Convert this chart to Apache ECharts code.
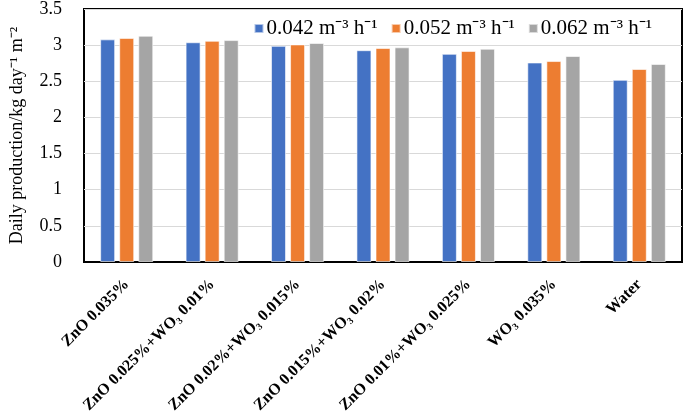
<!DOCTYPE html>
<html><head><meta charset="utf-8">
<script src="https://cdn.jsdelivr.net/npm/echarts@6/dist/echarts.min.js"></script>
<style>html,body{margin:0;padding:0;background:#fff}#c{width:685px;height:420px}</style>
</head><body><div id="c"></div>
<script>
const categories = ['ZnO 0.035%', 'ZnO 0.025%+WO₃ 0.01%', 'ZnO 0.02%+WO₃ 0.015%', 'ZnO 0.015%+WO₃ 0.02%', 'ZnO 0.01%+WO₃ 0.025%', 'WO₃ 0.035%', 'Water'];
const seriesNames = ['0.042 m⁻³ h⁻¹', '0.052 m⁻³ h⁻¹', '0.062 m⁻³ h⁻¹'];
const s042 = [3.08, 3.04, 2.99, 2.93, 2.88, 2.76, 2.52];
const s052 = [3.10, 3.06, 3.01, 2.96, 2.92, 2.78, 2.67];
const s062 = [3.13, 3.07, 3.03, 2.97, 2.95, 2.85, 2.74];
const yTicks = [0, 0.5, 1, 1.5, 2, 2.5, 3, 3.5];
const colors = ['#4472c4', '#ed7d31', '#a5a5a5'];
const serif = 'Liberation Serif';
const chart = echarts.init(document.getElementById('c'));
const vals = [s042, s052, s062];
chart.setOption({
  animation: false,
  grid: {left: 77, right: 3, top: 7, bottom: 158, show: true, borderColor: '#000', borderWidth: 2, backgroundColor: 'transparent'},
  legend: {
    top: 13, right: 28, itemWidth: 9, itemHeight: 9, itemGap: 13,
    icon: 'rect',
    textStyle: {fontFamily: serif, fontSize: 21, color: '#000', padding: [0, 0, 0, -2]},
    data: seriesNames
  },
  xAxis: {
    type: 'category', data: categories,
    axisLine: {lineStyle: {color: '#000', width: 2}},
    axisTick: {show: false},
    axisLabel: {rotate: 45, interval: 0, margin: 20, fontFamily: serif, fontWeight: 'bold', fontSize: 16, color: '#000'}
  },
  yAxis: {
    type: 'value', min: 0, max: 3.5, interval: 0.5,
    name: 'Daily production/kg day⁻¹ m⁻²', nameLocation: 'middle', nameGap: 58,
    nameTextStyle: {fontFamily: serif, fontSize: 18, color: '#000'},
    axisLine: {show: false}, axisTick: {show: false},
    axisLabel: {margin: 22, fontFamily: serif, fontSize: 18, color: '#000', formatter: v => yTicks.includes(v) ? String(v) : ''},
    splitLine: {lineStyle: {color: '#d9d9d9', width: 1}}
  },
  series: seriesNames.map((n, i) => ({
    name: n, type: 'bar', data: vals[i], barWidth: 15, barGap: '27%',
    itemStyle: {color: colors[i], borderColor: 'rgba(255,255,255,0.6)', borderWidth: 1}
  }))
});
</script></body></html>
